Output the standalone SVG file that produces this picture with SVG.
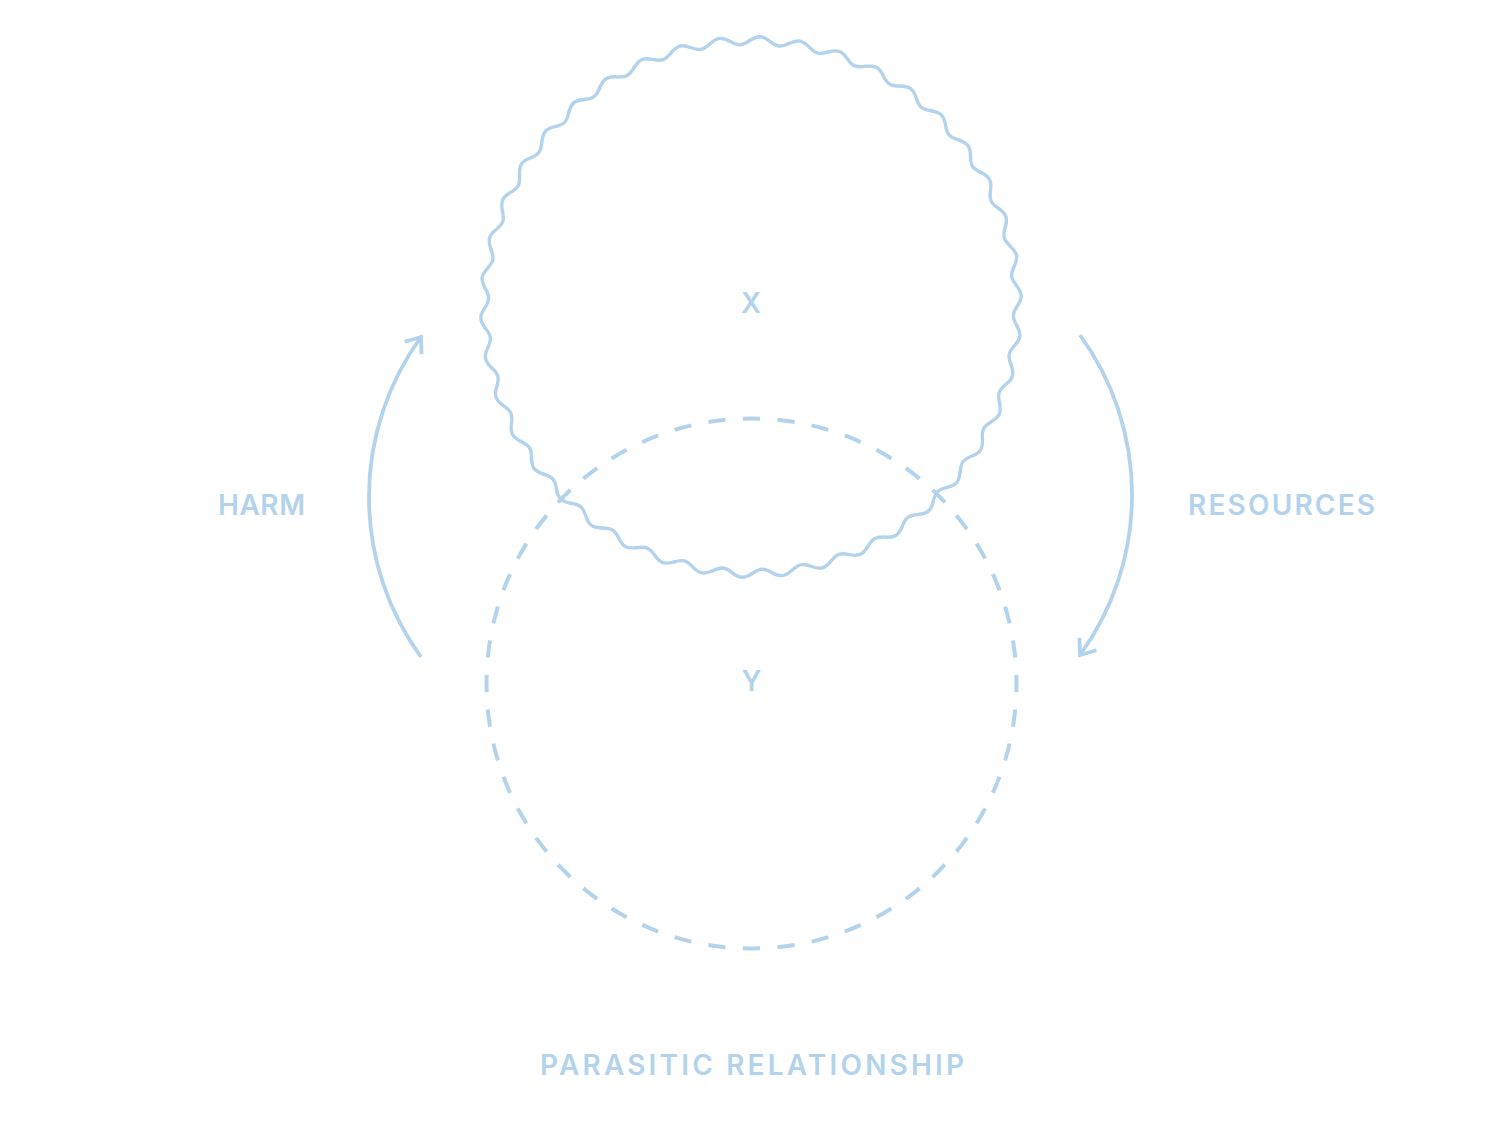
<svg xmlns="http://www.w3.org/2000/svg" xmlns:xlink="http://www.w3.org/1999/xlink" width="1500" height="1125" viewBox="0 0 1500 1125">
  <style>
    .lbl { font-family: Inter, "Noto Sans", "Liberation Sans", sans-serif; font-weight: 600; font-size: 28px; fill: #b3d3ec; text-anchor: middle; }
    .wave { fill: none; stroke: #b3d3ec; stroke-width: 3.4; stroke-linecap: round; stroke-linejoin: round; }
    .dash { fill: none; stroke: #b3d3ec; stroke-width: 4; }
    .conn { fill: none; stroke: #b3d3ec; stroke-width: 3.8; }
  </style>
  <defs>
    <path id="w" class="wave" d="M -19.916 -265.755 C -12.2 -271.3 -8.0 -271.9 0 -266.5 C 8.0 -261.1 11.5 -261.0 19.916 -265.755"/>
    <marker id="ah" markerUnits="userSpaceOnUse" markerWidth="36" markerHeight="36" viewBox="-24 -18 36 36" refX="0" refY="0" orient="auto">
      <path d="M -13.5 -10.5 L 0 0 L -13.5 10.5" fill="none" stroke="#b3d3ec" stroke-width="3.8" stroke-linejoin="miter"/>
    </marker>
  </defs>
  <rect width="1500" height="1125" fill="#ffffff"/>

  <g id="connectors">
    <path id="harm-arrow" class="conn" d="M 421 657 A 272 272 0 0 1 421 337" marker-end="url(#ah)"/>
    <path id="resources-arrow" class="conn" d="M 1080 335 A 272 272 0 0 1 1080 655" marker-end="url(#ah)"/>
  </g>

  <g id="node-x">
    <g transform="translate(751 307)">
      <use xlink:href="#w" href="#w" transform="rotate(4)"/>
      <use xlink:href="#w" href="#w" transform="rotate(12.5714)"/>
      <use xlink:href="#w" href="#w" transform="rotate(21.1429)"/>
      <use xlink:href="#w" href="#w" transform="rotate(29.7143)"/>
      <use xlink:href="#w" href="#w" transform="rotate(38.2857)"/>
      <use xlink:href="#w" href="#w" transform="rotate(46.8571)"/>
      <use xlink:href="#w" href="#w" transform="rotate(55.4286)"/>
      <use xlink:href="#w" href="#w" transform="rotate(64)"/>
      <use xlink:href="#w" href="#w" transform="rotate(72.5714)"/>
      <use xlink:href="#w" href="#w" transform="rotate(81.1429)"/>
      <use xlink:href="#w" href="#w" transform="rotate(89.7143)"/>
      <use xlink:href="#w" href="#w" transform="rotate(98.2857)"/>
      <use xlink:href="#w" href="#w" transform="rotate(106.8571)"/>
      <use xlink:href="#w" href="#w" transform="rotate(115.4286)"/>
      <use xlink:href="#w" href="#w" transform="rotate(124)"/>
      <use xlink:href="#w" href="#w" transform="rotate(132.5714)"/>
      <use xlink:href="#w" href="#w" transform="rotate(141.1429)"/>
      <use xlink:href="#w" href="#w" transform="rotate(149.7143)"/>
      <use xlink:href="#w" href="#w" transform="rotate(158.2857)"/>
      <use xlink:href="#w" href="#w" transform="rotate(166.8571)"/>
      <use xlink:href="#w" href="#w" transform="rotate(175.4286)"/>
      <use xlink:href="#w" href="#w" transform="rotate(184)"/>
      <use xlink:href="#w" href="#w" transform="rotate(192.5714)"/>
      <use xlink:href="#w" href="#w" transform="rotate(201.1429)"/>
      <use xlink:href="#w" href="#w" transform="rotate(209.7143)"/>
      <use xlink:href="#w" href="#w" transform="rotate(218.2857)"/>
      <use xlink:href="#w" href="#w" transform="rotate(226.8571)"/>
      <use xlink:href="#w" href="#w" transform="rotate(235.4286)"/>
      <use xlink:href="#w" href="#w" transform="rotate(244)"/>
      <use xlink:href="#w" href="#w" transform="rotate(252.5714)"/>
      <use xlink:href="#w" href="#w" transform="rotate(261.1429)"/>
      <use xlink:href="#w" href="#w" transform="rotate(269.7143)"/>
      <use xlink:href="#w" href="#w" transform="rotate(278.2857)"/>
      <use xlink:href="#w" href="#w" transform="rotate(286.8571)"/>
      <use xlink:href="#w" href="#w" transform="rotate(295.4286)"/>
      <use xlink:href="#w" href="#w" transform="rotate(304)"/>
      <use xlink:href="#w" href="#w" transform="rotate(312.5714)"/>
      <use xlink:href="#w" href="#w" transform="rotate(321.1429)"/>
      <use xlink:href="#w" href="#w" transform="rotate(329.7143)"/>
      <use xlink:href="#w" href="#w" transform="rotate(338.2857)"/>
      <use xlink:href="#w" href="#w" transform="rotate(346.8571)"/>
      <use xlink:href="#w" href="#w" transform="rotate(355.4286)"/>
    </g>
    <text class="lbl" x="751" y="313">X</text>
  </g>

  <g id="node-y">
    <circle class="dash" cx="751.5" cy="683.5" r="265" pathLength="48" stroke-dasharray="0.5 0.5" stroke-dashoffset="0.25"/>
    <text class="lbl" x="751.5" y="691">Y</text>
  </g>

  <g id="label-harm">
    <text class="lbl" x="261.5" y="515" textLength="87" lengthAdjust="spacing">HARM</text>
  </g>
  <g id="label-resources">
    <text class="lbl" x="1281.5" y="515" textLength="187" lengthAdjust="spacing">RESOURCES</text>
  </g>
  <g id="label-title">
    <text class="lbl" x="752" y="1075" textLength="424" lengthAdjust="spacing">PARASITIC RELATIONSHIP</text>
  </g>
</svg>
